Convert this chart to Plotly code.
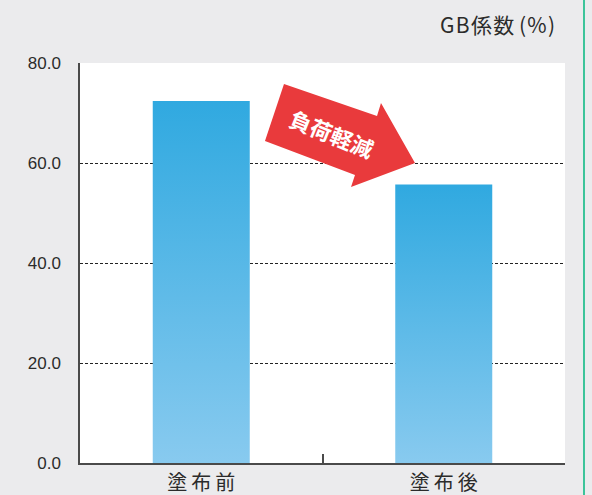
import plotly.graph_objects as go

categories = ["塗布前", "塗布後"]
values = [72.4, 55.7]
y_ticks = [0, 20, 40, 60, 80]
y_tick_labels = ["0.0", "20.0", "40.0", "60.0", "80.0"]
title_text = "G\u200aB\u200a係\u200a数 (\u200a%\u200a)"
arrow_text = "負荷軽減"

BG = "#ebebed"
AXIS = "#4a4a4a"
TXT = "#2b2b2b"
BAR_BOTTOM = "#88caef"
BAR_TOP = "#30a9e0"
HALF = 0.2  # half bar width in category units

fig = go.Figure()
for i, (cat, v) in enumerate(zip(categories, values)):
    fig.add_trace(go.Scatter(
        x=[i - HALF, i + HALF, i + HALF, i - HALF, i - HALF],
        y=[0, 0, v, v, 0],
        mode="lines", line=dict(width=0),
        fill="toself",
        fillgradient=dict(type="vertical", start=0, stop=v,
                          colorscale=[[0, BAR_BOTTOM], [1, BAR_TOP]]),
        name=cat, hoverinfo="text", text=f"{cat}: {v}",
        showlegend=False,
    ))

L, R, T, B = 80, 565, 63, 463
def px(xp, yp):
    return ((xp - L) / (R - L), (B - yp) / (B - T))
pts = [(284, 84), (377, 116), (381, 103), (415, 163), (351, 187), (355, 175), (265, 141)]
path = "M " + " L ".join(f"{px(a,b)[0]:.4f},{px(a,b)[1]:.4f}" for a, b in pts) + " Z"

fig.update_layout(
    width=592, height=495, autosize=False,
    paper_bgcolor=BG, plot_bgcolor="white",
    margin=dict(l=L, r=592 - R, t=T, b=495 - B, pad=0),
    showlegend=False,
    xaxis=dict(
        range=[-0.5, 1.5], tickmode="array", tickvals=[0, 1],
        ticktext=["\u2009".join(c) for c in categories],
        ticks="", showgrid=False, zeroline=False, automargin=False,
        showline=True, linecolor=AXIS, linewidth=2,
        tickfont=dict(family="Noto Sans CJK JP", size=20, color=TXT),
        ticklabelstandoff=1,
        minor=dict(tickmode="array", tickvals=[0.5], ticks="inside",
                   ticklen=9, tickwidth=1.5, tickcolor=AXIS, showgrid=False),
        fixedrange=True,
    ),
    yaxis=dict(
        range=[0, 80], tickmode="array", tickvals=y_ticks, ticktext=y_tick_labels,
        ticks="", showgrid=False, zeroline=False, automargin=False,
        showline=True, linecolor=AXIS, linewidth=1.5,
        tickfont=dict(family="Liberation Sans, Arial", size=17, color=TXT),
        ticklabelstandoff=14,
        minor=dict(tickmode="array", tickvals=[20, 40, 60], ticks="",
                   showgrid=True, gridcolor="#222222", gridwidth=1,
                   griddash="3px,2px"),
        fixedrange=True,
    ),
    shapes=[
        dict(type="path", xref="paper", yref="paper", path=path,
             fillcolor="#e93a3c", line=dict(width=0), layer="above"),
        dict(type="line", xref="paper", yref="paper",
             x0=(584 - L) / (R - L), x1=(584 - L) / (R - L),
             y0=-0.1, y1=1.2, line=dict(color="#3cc49a", width=2)),
    ],
    annotations=[
        dict(text=title_text, xref="paper", yref="paper",
             x=px(557, 24)[0], y=px(557, 24)[1],
             xanchor="right", yanchor="middle",
             showarrow=False,
             font=dict(family="Noto Sans CJK JP", size=21, color=TXT)),
        dict(text=arrow_text, xref="paper", yref="paper",
             x=px(332, 133)[0], y=px(332, 133)[1],
             xanchor="center", yanchor="middle",
             showarrow=False, textangle=22,
             font=dict(family="Noto Sans CJK JP", size=22, color="white", weight=700)),
    ],
)

fig.write_html("out.html", config={"responsive": False, "displayModeBar": False},
               post_script="document.body.style.margin='0';document.body.style.overflow='hidden';")
